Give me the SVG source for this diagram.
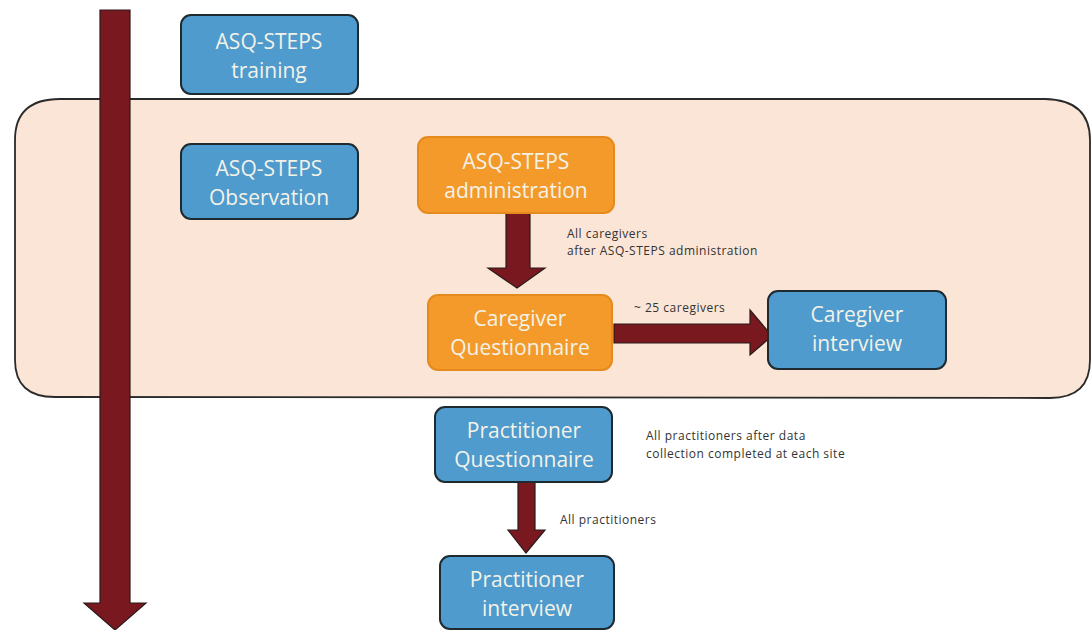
<svg xmlns="http://www.w3.org/2000/svg" width="1091" height="630" viewBox="0 0 1091 630">
<style>
.blue{fill:#4f9bcd;stroke:#1e2a30;stroke-width:2}
.orange{fill:#f39a2b;stroke:#e58a1c;stroke-width:2}
.nt{font-family:"Open Sans","Liberation Sans",sans-serif;font-size:21px;fill:#f3f2e8;text-anchor:middle}
.lbl{font-family:"Open Sans","Liberation Sans",sans-serif;font-size:12px;letter-spacing:0.5px;fill:#333}
.arr{fill:#7a1820;stroke:#2a1a1a;stroke-width:1.2;stroke-linejoin:miter}
</style>
<rect width="1091" height="630" fill="#fff"/>
<g id="phase">
<path d="M60,99 L1045,99 Q1090,100 1090,140 L1090,360 Q1090,398 1050,398 L55,397 Q15,397 15,360 L15,140 Q15,99 60,99 Z" fill="#fbe5d6" stroke="#2a2a2a" stroke-width="1.8"/>
</g>
<g id="connectors">
<path id="timeline" class="arr" d="M100,10 L130,10 L130,603 L146,603 L115,630 L84,603 L100,603 Z"/>
<path class="arr" d="M506,213 L530,213 L530,268 L545,268 L517,288 L488,268 L506,268 Z"/>
<path class="arr" d="M614,324 L750,324 L750,310 L772,336 L750,355 L750,343 L614,343 Z"/>
<path class="arr" d="M518,482 L535,482 L535,530 L545,530 L526,553 L508,530 L518,530 Z"/>
</g>
<g id="labels">
<text class="lbl" x="567" y="238">All caregivers</text>
<text class="lbl" x="567" y="255">after ASQ-STEPS administration</text>
<text class="lbl" x="634" y="312">~ 25 caregivers</text>
<text class="lbl" x="646" y="440">All practitioners after data</text>
<text class="lbl" x="646" y="458">collection completed at each site</text>
<text class="lbl" x="560" y="524">All practitioners</text>
</g>
<g id="training">
<rect class="blue" x="181" y="15" width="177" height="79" rx="10"/>
<text class="nt" x="269" y="49">ASQ-STEPS</text>
<text class="nt" x="269" y="78">training</text>
</g>
<g id="observation">
<rect class="blue" x="181" y="144" width="177" height="75" rx="10"/>
<text class="nt" x="269" y="176">ASQ-STEPS</text>
<text class="nt" x="269" y="205">Observation</text>
</g>
<g id="administration">
<rect class="orange" x="418" y="137" width="196" height="76" rx="10"/>
<text class="nt" x="516" y="169">ASQ-STEPS</text>
<text class="nt" x="516" y="198">administration</text>
</g>
<g id="cg-questionnaire">
<rect class="orange" x="428" y="295" width="184" height="75" rx="10"/>
<text class="nt" x="520" y="326">Caregiver</text>
<text class="nt" x="520" y="355">Questionnaire</text>
</g>
<g id="cg-interview">
<rect class="blue" x="768" y="291" width="178" height="78" rx="10"/>
<text class="nt" x="857" y="322">Caregiver</text>
<text class="nt" x="857" y="351">interview</text>
</g>
<g id="pr-questionnaire">
<rect class="blue" x="435" y="407" width="177" height="75" rx="10"/>
<text class="nt" x="524" y="438">Practitioner</text>
<text class="nt" x="524" y="467">Questionnaire</text>
</g>
<g id="pr-interview">
<rect class="blue" x="440" y="556" width="174" height="73" rx="10"/>
<text class="nt" x="527" y="587">Practitioner</text>
<text class="nt" x="527" y="616">interview</text>
</g>
</svg>
